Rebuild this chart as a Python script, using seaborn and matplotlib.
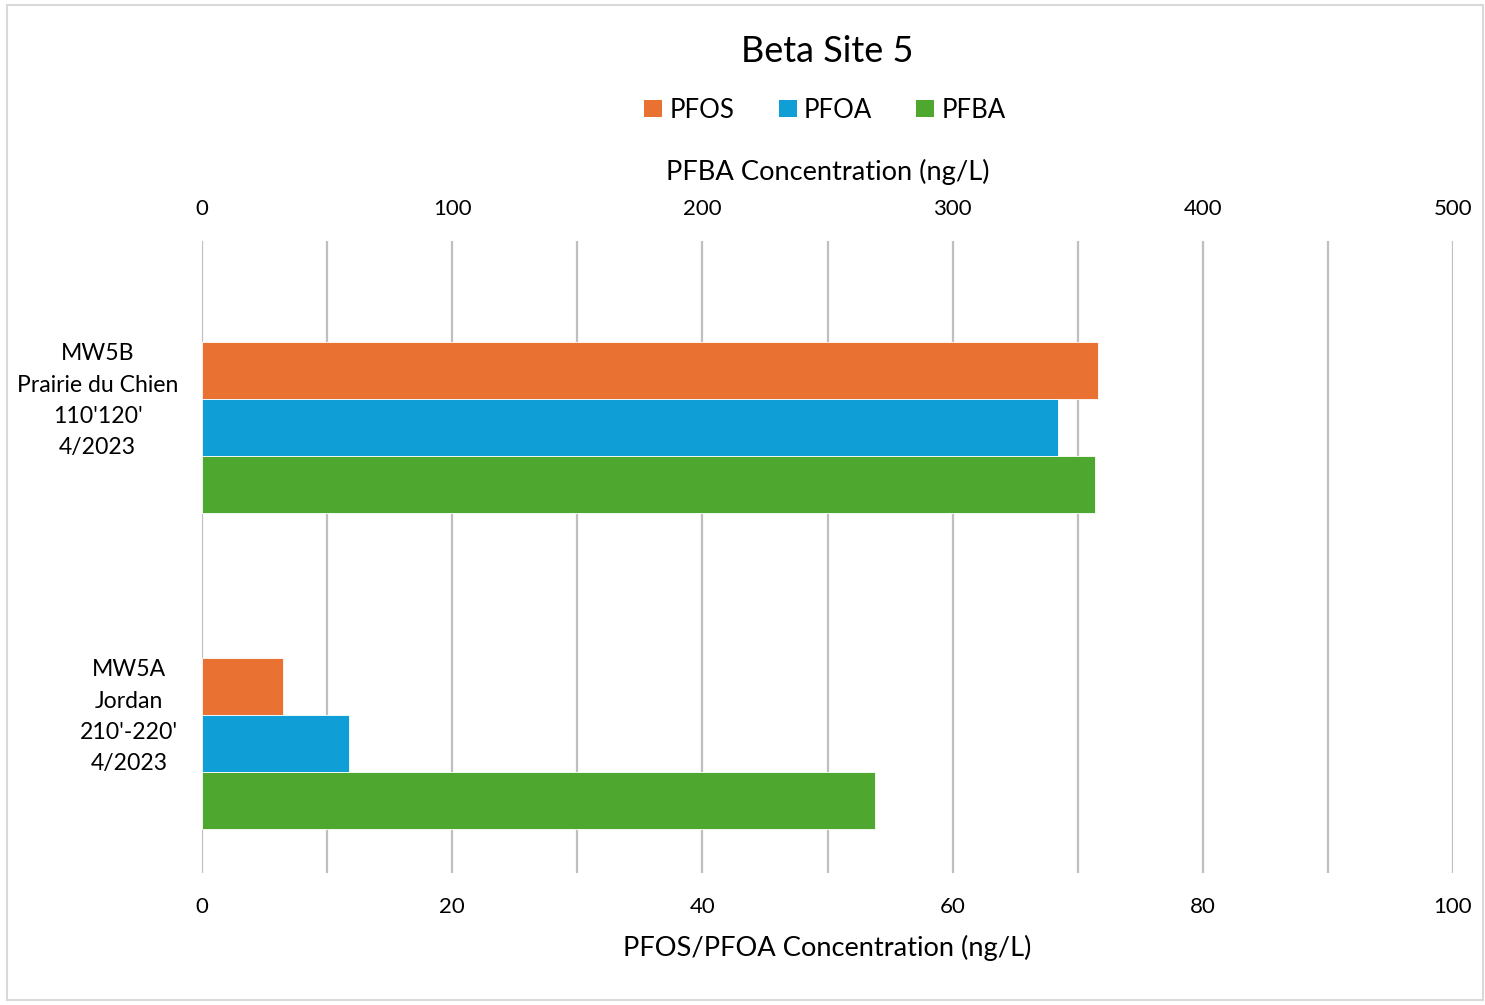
import seaborn as sns
import pandas as pd
import matplotlib.pyplot as plt
from matplotlib.patches import Patch, Rectangle
from matplotlib.transforms import ScaledTranslation
from matplotlib.ticker import MultipleLocator

plt.rcParams['font.family'] = ['Lato', 'DejaVu Sans']

# data
wells = ["MW5B\nPrairie du Chien\n110'120'\n4/2023",
         "MW5A\nJordan\n210'-220'\n4/2023"]
pfos = [71.6, 6.45]
pfoa = [68.4, 11.75]
pfba = [357, 269]
compounds = ['PFOS', 'PFOA', 'PFBA']
colors = {'PFOS': '#E97132', 'PFOA': '#0F9ED5', 'PFBA': '#4EA72E'}

df_low = pd.DataFrame({
    'well': wells * 2,
    'value': pfos + pfoa,
    'compound': ['PFOS'] * len(wells) + ['PFOA'] * len(wells),
})
df_high = pd.DataFrame({'well': wells, 'value': pfba, 'compound': ['PFBA'] * len(wells)})

fig = plt.figure(figsize=(14.85, 10.05), dpi=100)
ax = fig.add_axes([202 / 1485, 1 - 873 / 1005, (1453 - 202) / 1485, (873 - 241) / 1005])
ax2 = ax.twiny()

sns.barplot(data=df_low, x='value', y='well', hue='compound', hue_order=compounds,
            order=wells, orient='h', palette=colors, width=0.54, gap=0, dodge=True,
            saturation=1, edgecolor='white', linewidth=0.6, legend=False, ax=ax)
sns.barplot(data=df_high, x='value', y='well', hue='compound', hue_order=compounds,
            order=wells, orient='h', palette=colors, width=0.54, gap=0, dodge=True,
            saturation=1, edgecolor='white', linewidth=0.6, legend=False, ax=ax2)

ax.set_xlim(0, 100)
ax2.set_xlim(0, 500)
ax.set_ylim(1.409, -0.59)

# bottom axis: labels every 20, grid every 10
ax.xaxis.set_major_locator(MultipleLocator(20))
ax.xaxis.set_minor_locator(MultipleLocator(10))
ax.set_axisbelow(True)
ax.grid(axis='x', which='both', color='#bfbfbf', linewidth=1.6)
ax.get_xgridlines()[0].set_color('#d9d9d9')
ax.tick_params(axis='x', which='both', length=0, labelsize=16, pad=17)
ax.tick_params(axis='y', length=0, labelsize=16.6, pad=17)
ax2.xaxis.set_major_locator(MultipleLocator(100))
ax2.tick_params(axis='x', length=0, labelsize=16, pad=15.5)

for s in ax.spines.values():
    s.set_visible(False)
for s in ax2.spines.values():
    s.set_visible(False)

ax.set_ylabel('')
ax2.set_ylabel('')
ax.set_xlabel('PFOS/PFOA Concentration (ng/L)', fontsize=19.6, labelpad=13)
ax2.set_xlabel('PFBA Concentration (ng/L)', fontsize=19.6, labelpad=14)

# category labels centred on multi lines, sitting a bit above the bar groups
for lab in ax.get_yticklabels():
    lab.set_multialignment('center')
    lab.set_linespacing(1.6)
    lab.set_transform(lab.get_transform() + ScaledTranslation(0, 0.34, fig.dpi_scale_trans))

fig.text(827 / 1485, 1 - 51 / 1005, 'Beta Site 5', ha='center', va='center', fontsize=26)

handles = [Patch(facecolor=colors[c], label=c) for c in compounds]
fig.legend(handles=handles, loc='center', bbox_to_anchor=(825 / 1485, 1 - 110 / 1005),
           ncol=3, frameon=False, fontsize=18.5, handlelength=0.7, handleheight=0.7,
           handletextpad=0.28, columnspacing=1.72)

fig.patches.append(Rectangle((7 / 1485, 5 / 1005), 1476 / 1485, 995 / 1005,
                             transform=fig.transFigure, fill=False,
                             edgecolor='#d9d9d9', linewidth=1.5))

fig.savefig('out.png', dpi=100)
